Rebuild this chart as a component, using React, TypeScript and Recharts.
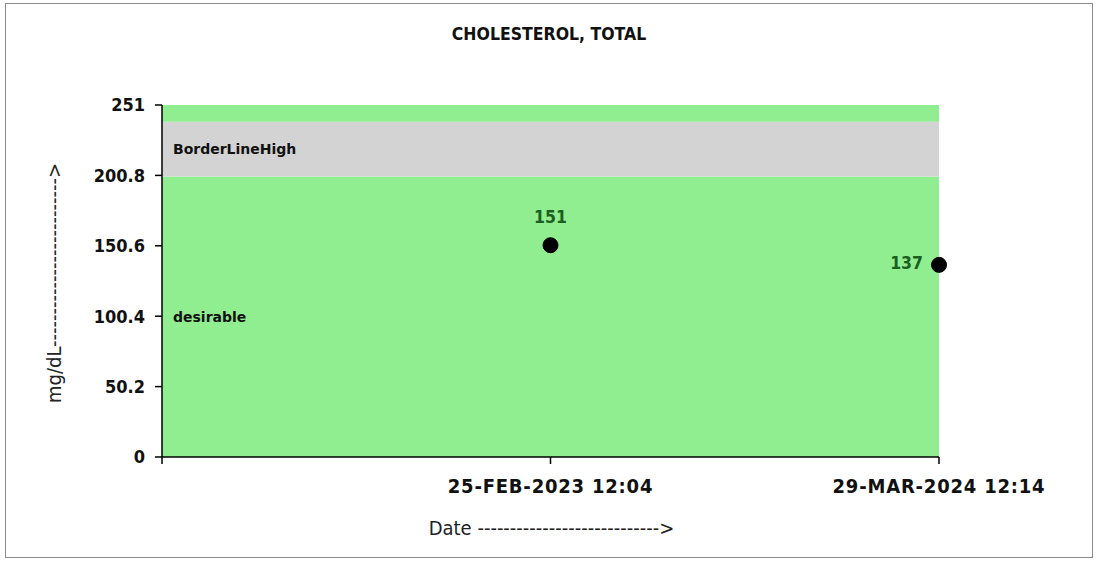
import { LineChart, Line, XAxis, YAxis, ReferenceArea, LabelList, Label } from 'recharts';

const dates = ['', '25-FEB-2023 12:04', '29-MAR-2024 12:14'];
const cholesterol = [null, 151, 137];
const yTicks = [0, 50.2, 100.4, 150.6, 200.8, 251];

// reference ranges drawn behind the points
const bandNames = ['desirable', 'BorderLineHigh', ''];
const bandFrom = [0, 200, 239];
const bandTo = [200, 239, 251];
const bandColors = ['#90EE90', '#D3D3D3', '#90EE90'];

const data = dates.map((d, i) => ({ date: d, value: cholesterol[i] }));

const FONT = '"DejaVu Sans Condensed", "DejaVu Sans", sans-serif';

const renderPointLabel = (props: any) => {
  const { x, y, value, index } = props;
  if (value == null) return null;
  const last = index === dates.length - 1;
  return (
    <text
      x={last ? x - 16 : x}
      y={last ? y - 1.5 : y - 28}
      fill="#1b5e20"
      fontFamily={FONT}
      fontWeight="bold"
      fontSize={17.5}
      textAnchor={last ? 'end' : 'middle'}
      dominantBaseline="central"
    >
      {value}
    </text>
  );
};

const YTitle = (props: any) => {
  const { x, y, height } = props.viewBox;
  const cx = x + 48;
  const cy = y + height / 2 + 2;
  return (
    <text
      x={cx}
      y={cy}
      transform={`rotate(-90, ${cx}, ${cy})`}
      textAnchor="middle"
      dominantBaseline="central"
      fontFamily={FONT}
      fontSize={20}
      fill="#222"
    >
      {'mg/dL' + '-'.repeat(26) + '>'}
    </text>
  );
};

const XTitle = (props: any) => {
  const { x, y, width } = props.viewBox;
  return (
    <text
      x={x + width / 2 + 1}
      y={y + 78}
      textAnchor="middle"
      fontFamily={FONT}
      fontSize={20}
      fill="#222"
    >
      {'Date ' + '-'.repeat(28) + '>'}
    </text>
  );
};

function App() {
  return (
    <div
      style={{
        position: 'absolute',
        left: 5,
        top: 3,
        width: 1088,
        height: 555,
        border: '1px solid #8a8a8a',
        boxSizing: 'border-box',
        background: '#fff',
      }}
    >
      <div
        style={{
          position: 'absolute',
          top: 20,
          width: '100%',
          textAlign: 'center',
          fontFamily: FONT,
          fontWeight: 'bold',
          fontSize: 17.5,
          color: '#111',
        }}
      >
        CHOLESTEROL, TOTAL
      </div>
      <LineChart width={1086} height={553} data={data} margin={{ top: 101, right: 153, left: 0, bottom: 0 }}>
        {bandNames.map((name, i) => (
          <ReferenceArea
            key={`band-${i}`}
            y1={bandFrom[i]}
            y2={bandTo[i]}
            fill={bandColors[i]}
            fillOpacity={1}
            stroke="none"
            label={
              name
                ? {
                    value: name,
                    position: 'insideLeft',
                    offset: 11,
                    fill: '#111',
                    fontFamily: '"DejaVu Sans", sans-serif',
                    fontWeight: 'bold',
                    fontSize: 14,
                  }
                : undefined
            }
          />
        ))}
        <XAxis
          dataKey="date"
          height={100}
          stroke="#000"
          strokeWidth={1.5}
          tickSize={7}
          tickMargin={15}
          interval={0}
          tick={{ fill: '#111', fontFamily: FONT, fontWeight: 'bold', fontSize: 20, letterSpacing: 0.8 }}
        >
          <Label content={XTitle} />
        </XAxis>
        <YAxis
          width={156}
          domain={[0, 251]}
          ticks={yTicks}
          stroke="#000"
          strokeWidth={1.5}
          tickSize={7}
          tickMargin={10}
          tick={{ fill: '#111', fontFamily: FONT, fontWeight: 'bold', fontSize: 18 }}
        >
          <Label content={YTitle} />
        </YAxis>
        <Line
          dataKey="value"
          stroke="none"
          isAnimationActive={false}
          dot={{ r: 7.5, fill: '#000', stroke: '#000', strokeWidth: 1 }}
          activeDot={false}
        >
          <LabelList dataKey="value" content={renderPointLabel} />
        </Line>
      </LineChart>
    </div>
  );
}

export default App;
